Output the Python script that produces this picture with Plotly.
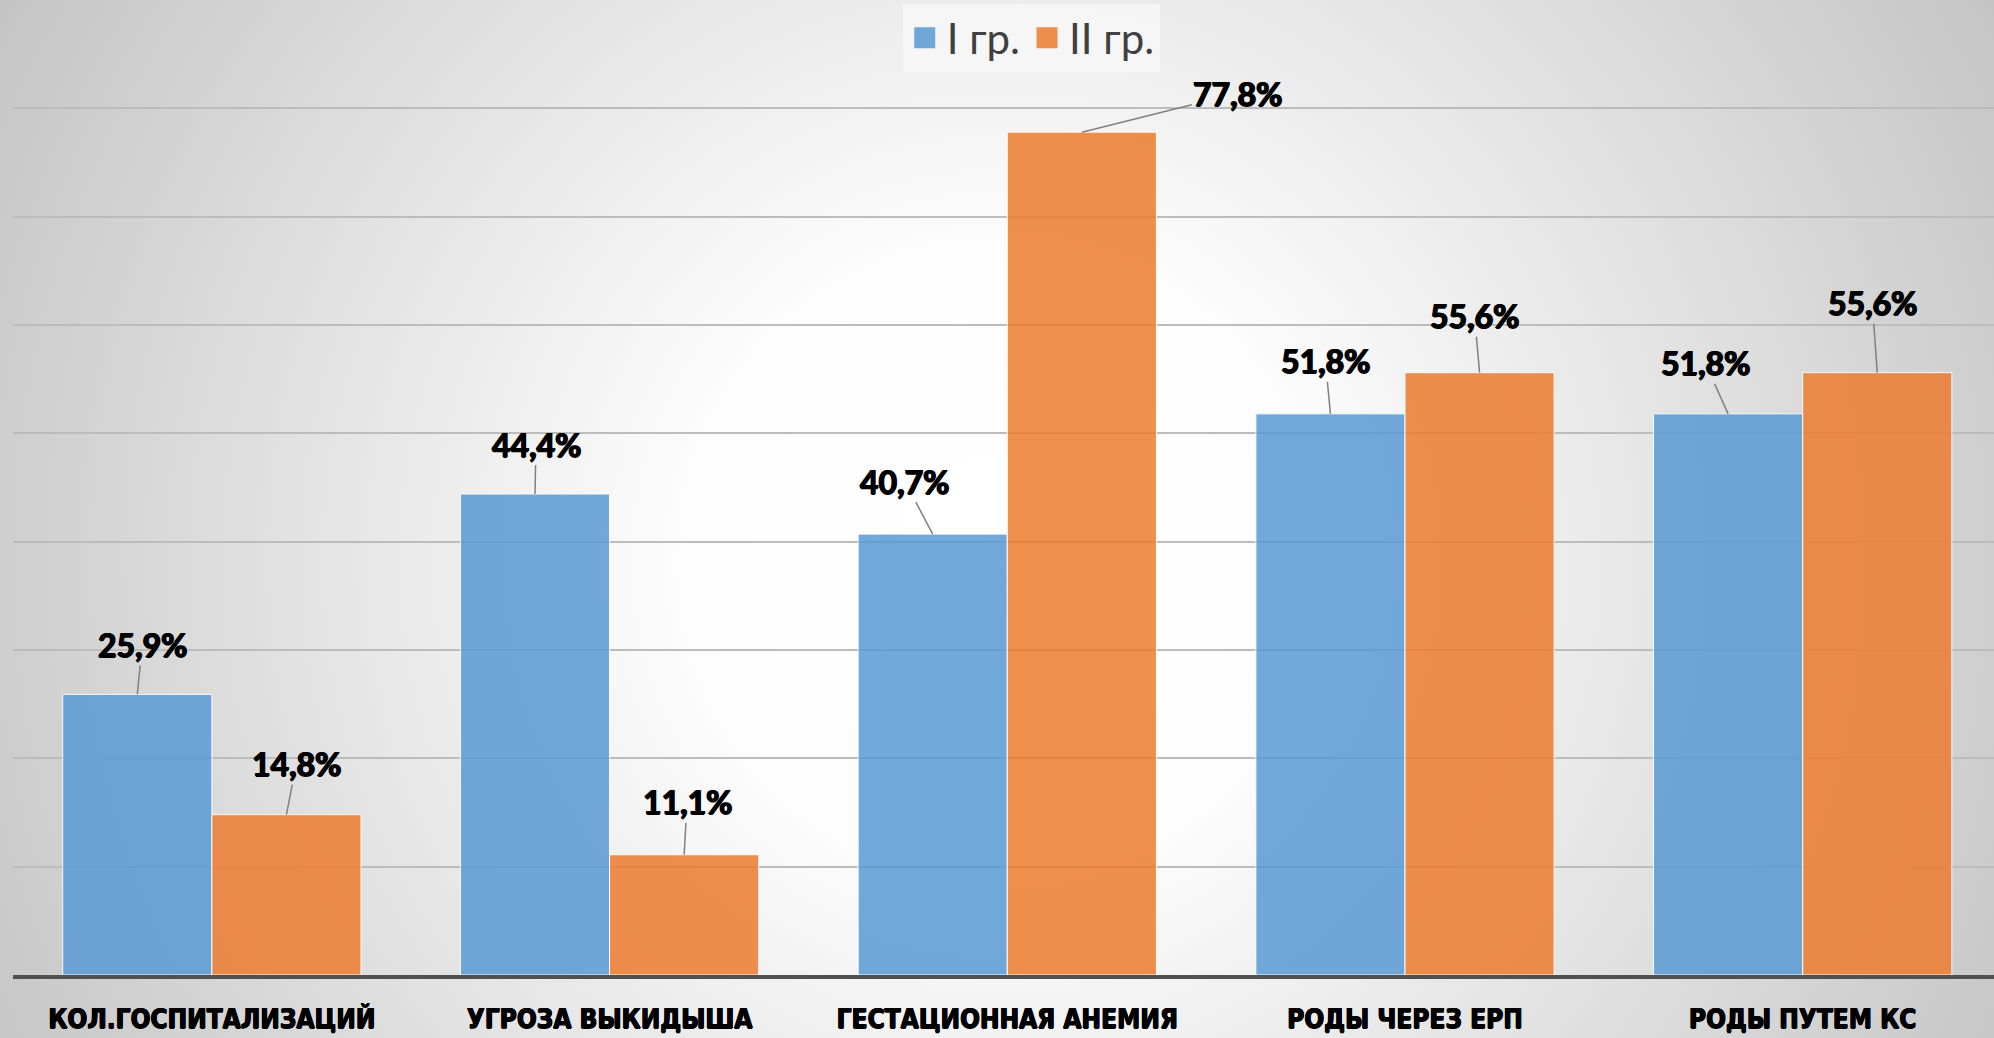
import base64
import plotly.graph_objects as go

# ---- data ----
categories = ["КОЛ.ГОСПИТАЛИЗАЦИЙ", "УГРОЗА ВЫКИДЫША", "ГЕСТАЦИОННАЯ АНЕМИЯ",
              "РОДЫ ЧЕРЕЗ ЕРП", "РОДЫ ПУТЕМ КС"]
series_names = ["I гр.", "II гр."]
group1 = [25.9, 44.4, 40.7, 51.8, 51.8]
group2 = [14.8, 11.1, 77.8, 55.6, 55.6]

# ---- styling ----
W, H = 1994, 1038
ML, MR, MT, MB = 13, 0, 0, 63
colors = ["#5B9BD5", "#ED7D31"]
bargap = 0.25
# label callout offsets (pixels) for each bar: (dx, dy)
offsets1 = [(5, -50), (1, -50), (-28, -53), (-5, -53), (-23, -51)]
offsets2 = [(10, -51), (3, -53), (156, -39), (-5, -57), (-5, -70)]
bold_shadow = "0.8px 0 0 #000, -0.8px 0 0 #000, 0 0.5px 0 #000"
outline = "0.6px 0 0 #000, -0.6px 0 0 #000, 0 0.6px 0 #000, 0 -0.6px 0 #000"

fig = go.Figure()
for name, vals, col in zip(series_names, [group1, group2], colors):
    fig.add_trace(go.Bar(
        x=categories, y=vals, name=name, showlegend=False,
        marker=dict(color=col, opacity=0.86, line=dict(color="white", width=1)),
        hoverinfo="skip",
    ))
# legend proxies
for name, col in zip(series_names, colors):
    fig.add_trace(go.Scatter(
        x=[None], y=[None], name=name, mode="markers",
        marker=dict(symbol="square", size=16, color=col, opacity=0.86,
                    line=dict(color=col, width=5)),
    ))

# data label callouts
barw = (1 - bargap) / 2
annotations = []
for k, (vals, offs) in enumerate([(group1, offsets1), (group2, offsets2)]):
    shift = -barw / 2 if k == 0 else barw / 2
    for i, (v, (dx, dy)) in enumerate(zip(vals, offs)):
        annotations.append(dict(
            x=i + shift, y=v, xref="x", yref="y",
            text="<b>" + f"{v:.1f}%".replace(".", ",") + "</b>",
            showarrow=True, arrowhead=0, arrowwidth=1.5, arrowcolor="#808080",
            ax=dx, ay=dy, standoff=0,
            font=dict(family="Lato, Open Sans, sans-serif", size=32, color="black",
                      weight="bold", shadow=bold_shadow),
        ))

svg = (f'<svg xmlns="http://www.w3.org/2000/svg" width="{W}" height="{H}">'
       '<defs><radialGradient id="g" gradientUnits="userSpaceOnUse" cx="1000" cy="560" r="1150">'
       '<stop offset="0" stop-color="#ffffff"/><stop offset="0.27" stop-color="#fdfdfd"/>'
       '<stop offset="1" stop-color="#c4c4c4"/></radialGradient></defs>'
       f'<rect width="{W}" height="{H}" fill="url(#g)"/></svg>')
src = "data:image/svg+xml;base64," + base64.b64encode(svg.encode()).decode()
pw, ph = W - ML - MR, H - MT - MB

fig.update_layout(
    width=W, height=H,
    margin=dict(l=ML, r=MR, t=MT, b=MB, pad=0),
    paper_bgcolor="rgba(0,0,0,0)", plot_bgcolor="rgba(0,0,0,0)",
    barmode="group", bargap=bargap, bargroupgap=0,
    images=[dict(source=src, xref="paper", yref="paper",
                 x=-ML / pw, y=1 + MT / ph, sizex=W / pw, sizey=H / ph,
                 xanchor="left", yanchor="top", sizing="stretch", layer="below")],
    legend=dict(orientation="h", x=0.514, xanchor="center", y=0.996, yanchor="top",
                bgcolor="rgba(246,246,246,0.9)",
                font=dict(family="Lato, Open Sans, sans-serif", size=42, color="#404040"),
                itemwidth=34),
    annotations=annotations,
    xaxis=dict(type="category", range=[-0.5, 4.481], showgrid=False,
               showline=True, linecolor="#505050", linewidth=4,
               ticks="", ticklabelstandoff=18,
               tickfont=dict(family="Liberation Sans Narrow, DejaVu Sans Condensed, Roboto Condensed, sans-serif",
                             size=26, color="black", weight="bold", shadow=outline)),
    yaxis=dict(range=[0, 90], dtick=10, showticklabels=False, showgrid=True,
               gridcolor="#bcbcbc", gridwidth=1.5, zeroline=False, showline=False, ticks=""),
)

fig.write_html("out.html", config={"displayModeBar": False},
               post_script="document.body.style.margin='0';document.body.style.overflow='hidden';")
